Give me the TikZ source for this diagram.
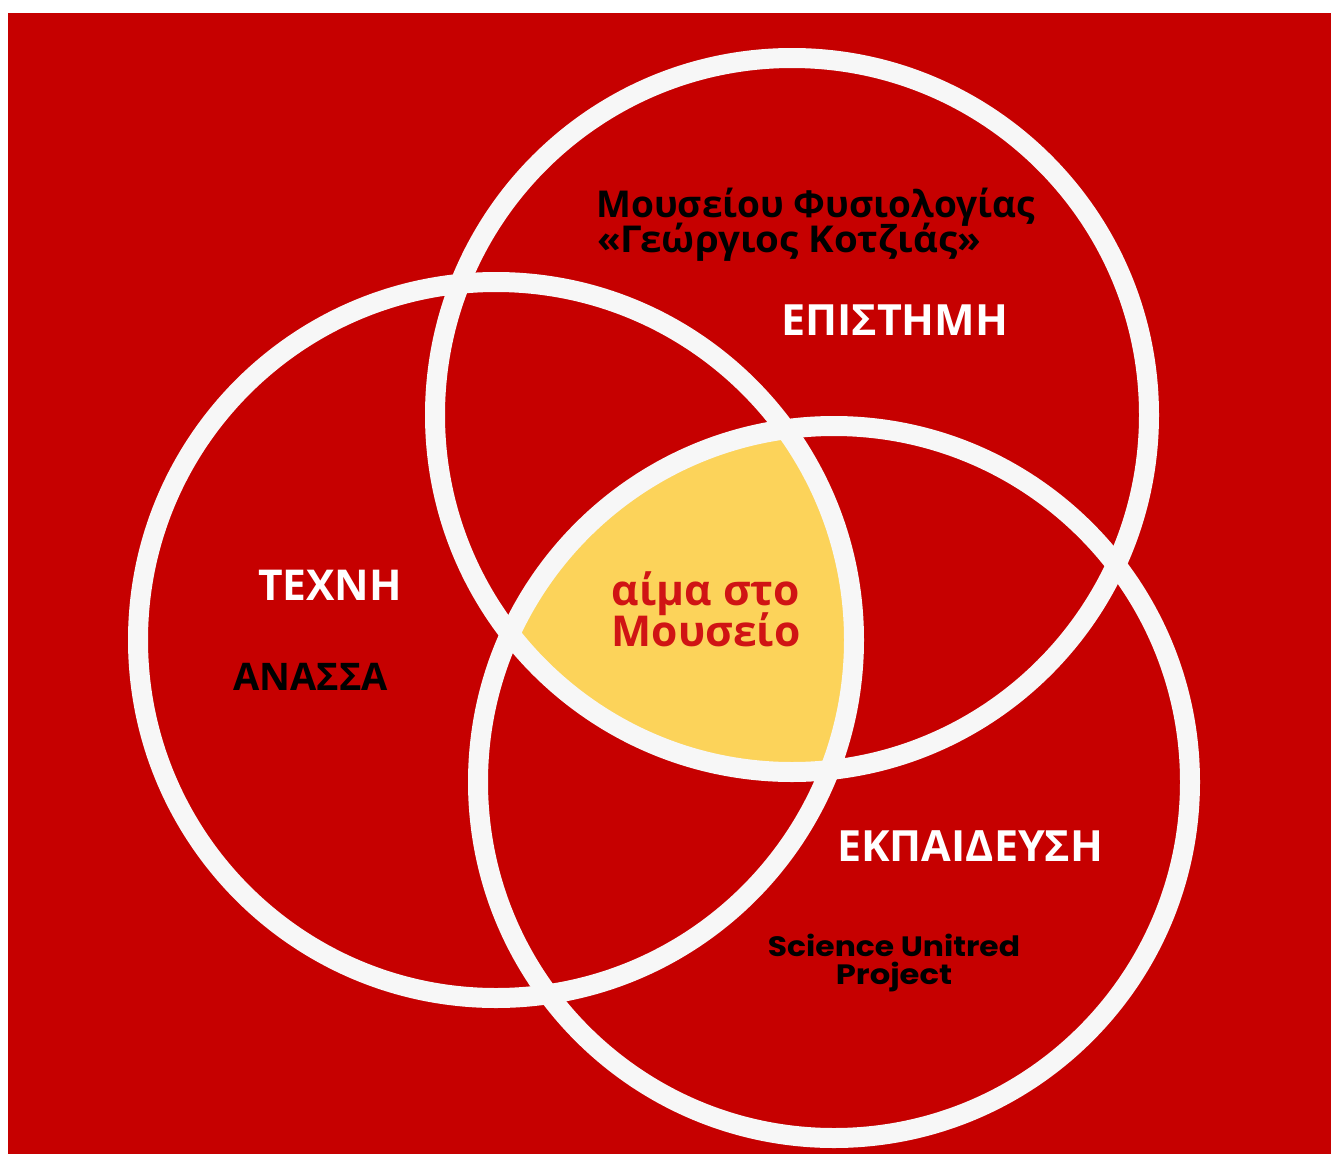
\documentclass[tikz,border=0pt]{standalone}
\usepackage{fontspec}
\setmainfont{Open Sans}
\newfontfamily\popfont{Poppins}
\definecolor{bgred}{RGB}{198,0,0}
\definecolor{fillyel}{RGB}{252,211,90}
\definecolor{txtred}{RGB}{208,20,20}
\begin{document}
\begin{tikzpicture}[x=1pt,y=-1pt,
  ring/.style={draw=white!97!black,line width=20pt},
  lbl/.style={inner sep=0pt,font=\bfseries\fontsize{#1}{#1}\selectfont},
  lbl/.default=44,
  pop/.style={inner sep=0pt,anchor=base,text=black,font=\popfont\bfseries\fontsize{28}{28}\selectfont}]
\useasboundingbox (0,0) rectangle (1331,1154);
\fill[white] (0,0) rectangle (1331,1154);
\fill[bgred] (8,13) rectangle (1331,1154);
\coordinate (cA) at (792,415);
\coordinate (cB) at (496,640);
\coordinate (cC) at (834,782);
\begin{scope}
  \clip (cA) circle[radius=357pt];
  \clip (cB) circle[radius=358pt];
  \fill[fillyel] (cC) circle[radius=356pt];
\end{scope}
\draw[ring] (cA) circle[radius=357pt];
\draw[ring] (cB) circle[radius=358pt];
\draw[ring] (cC) circle[radius=356pt];
% texts
\node[lbl=37,anchor=base west,text=black] (mus1) at (596,217) {Μουσείου Φυσιολογίας};
\node[lbl=37,anchor=base west,text=black] (mus2) at (597,252) {\scalebox{1.04}[1]{«Γεώργιος Κοτζιάς»}};
\node[lbl=43,anchor=base west,text=white] (epi) at (781,335) {ΕΠΙΣΤΗΜΗ};
\node[lbl=42.5,anchor=base west,text=white] (tex) at (258,600) {ΤΕΧΝΗ};
\node[lbl=38,anchor=base west,text=black] (ana) at (233,690) {ΑΝΑΣΣΑ};
\node[lbl=42.5,anchor=base,text=txtred] (aim1) at (706,605) {αίμα στο};
\node[lbl=42.5,anchor=base,text=txtred] (aim2) at (706,646) {Μουσείο};
\node[lbl=43,anchor=base west,text=white] (ekp) at (837,861) {ΕΚΠΑΙΔΕΥΣΗ};
\node[pop] (sci1) at (894,956) {\scalebox{1.12}[1]{Science Unitred}};
\node[pop] (sci2) at (894,984) {\scalebox{1.15}[1]{Project}};
\end{tikzpicture}
\end{document}
